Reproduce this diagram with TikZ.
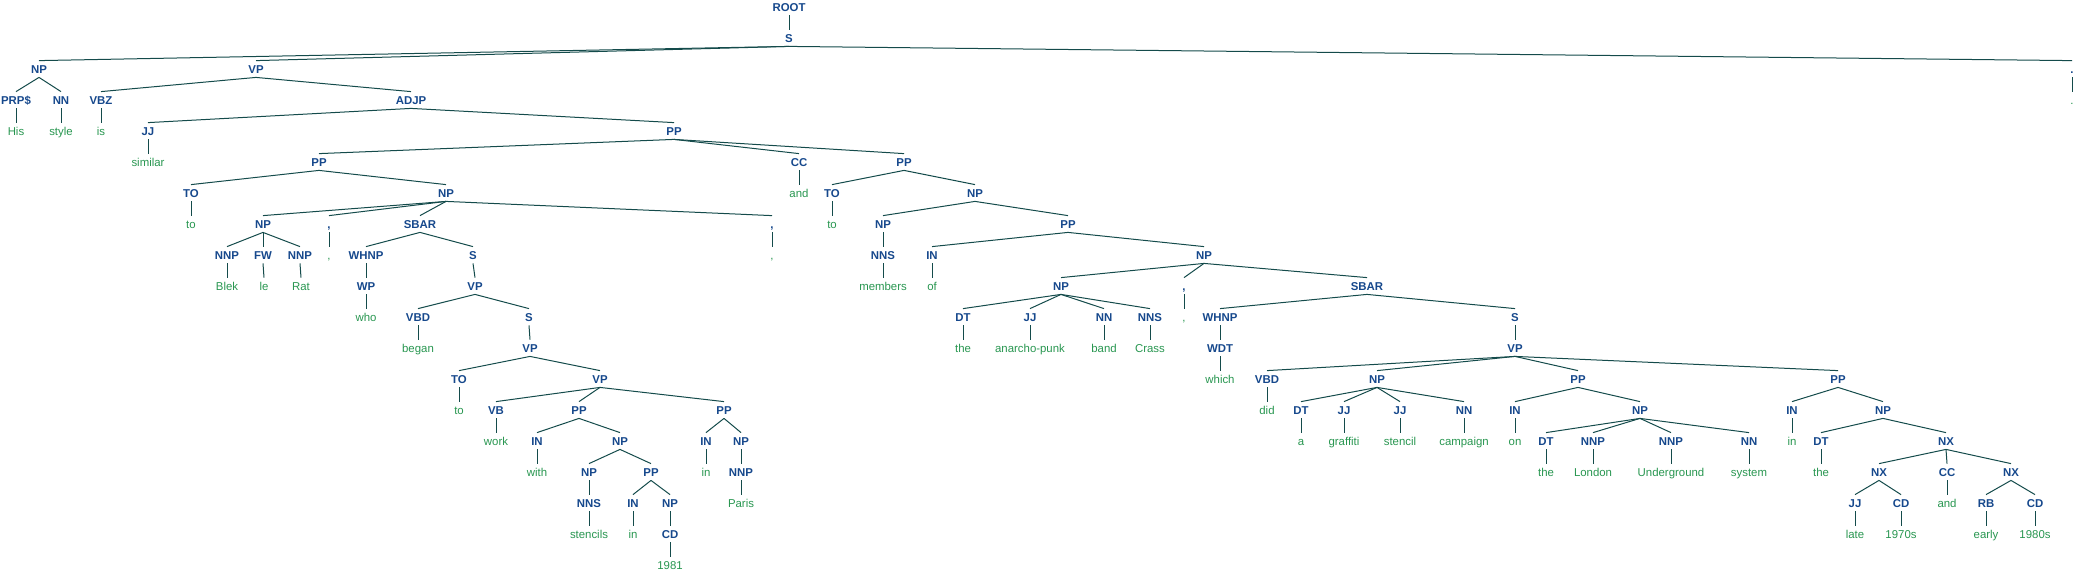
\documentclass[tikz,border=0pt]{standalone}
\usepackage{fontspec}
\setmainfont{Liberation Sans}
\usepackage{tikz}
\usepackage{xcolor}
\definecolor{labblue}{RGB}{22,72,140}
\definecolor{leafgreen}{RGB}{40,150,80}
\definecolor{edgeteal}{RGB}{20,75,75}

\begin{document}
\begin{tikzpicture}[
      x=0.5pt, y=-15.5pt,
      tag/.style={text=labblue, font=\fontsize{5.7}{6.8}\selectfont\bfseries,
                  inner sep=0pt, minimum height=8pt, text height=4.1pt, text depth=0pt},
      word/.style={text=leafgreen, font=\fontsize{5.7}{6.8}\selectfont,
                   inner sep=0pt, minimum height=8pt, text height=4.1pt, text depth=0pt},
      edge/.style={draw=edgeteal, line width=0.5pt},
    ]
    \useasboundingbox (0,-0.2258) rectangle (2077,18.3226);

    % top of the tree
    \node[tag] (root) at (789,0) {ROOT};
    \node[tag] (s) at (789,1) {S};
    \node[tag] (np1) at (39,2) {NP};
    \node[tag] (vp1) at (256,2) {VP};
    \node[tag] (pdot) at (2072,2) {.};
    \node[word] (wdot) at (2072,3) {.};

    % His style is similar
    \node[tag] (prp) at (16,3) {PRP\$};
    \node[tag] (nn1) at (61,3) {NN};
    \node[tag] (vbz) at (101,3) {VBZ};
    \node[tag] (adjp) at (411,3) {ADJP};
    \node[word] (his) at (16,4) {His};
    \node[word] (style) at (61,4) {style};
    \node[word] (is) at (101,4) {is};
    \node[tag] (jj1) at (148,4) {JJ};
    \node[tag] (pp1) at (674,4) {PP};
    \node[word] (similar) at (148,5) {similar};
    \node[tag] (pp2) at (319,5) {PP};
    \node[tag] (cc1) at (799,5) {CC};
    \node[tag] (pp3) at (904,5) {PP};

    % to Blek le Rat, who began ...
    \node[tag] (to1) at (191,6) {TO};
    \node[tag] (np2) at (446,6) {NP};
    \node[word] (and1) at (799,6) {and};
    \node[word] (wto1) at (191,7) {to};
    \node[tag] (np4) at (263,7) {NP};
    \node[tag] (comma1) at (329,7) {,};
    \node[tag] (sbar1) at (420,7) {SBAR};
    \node[tag] (comma2) at (772,7) {,};
    \node[tag] (nnp1) at (227,8) {NNP};
    \node[tag] (fw) at (263,8) {FW};
    \node[tag] (nnp2) at (300,8) {NNP};
    \node[word] (wcomma1) at (329,8) {,};
    \node[tag] (whnp1) at (366,8) {WHNP};
    \node[tag] (s2) at (473,8) {S};
    \node[word] (wcomma2) at (772,8) {,};
    \node[word] (blek) at (227,9) {Blek};
    \node[word] (le) at (264,9) {le};
    \node[word] (rat) at (301,9) {Rat};
    \node[tag] (wp) at (366,9) {WP};
    \node[tag] (vp2) at (475,9) {VP};
    \node[word] (who) at (366,10) {who};
    \node[tag] (vbd1) at (418,10) {VBD};
    \node[tag] (s3) at (529,10) {S};
    \node[word] (began) at (418,11) {began};
    \node[tag] (vp3) at (530,11) {VP};
    \node[tag] (to3) at (459,12) {TO};
    \node[tag] (vp5) at (600,12) {VP};
    \node[word] (wto3) at (459,13) {to};
    \node[tag] (vb) at (496,13) {VB};
    \node[tag] (pp7) at (579,13) {PP};
    \node[tag] (pp8) at (724,13) {PP};
    \node[word] (work) at (496,14) {work};
    \node[tag] (in4) at (537,14) {IN};
    \node[tag] (np11) at (620,14) {NP};
    \node[tag] (in5) at (706,14) {IN};
    \node[tag] (np12) at (741,14) {NP};
    \node[word] (with) at (537,15) {with};
    \node[tag] (np13) at (589,15) {NP};
    \node[tag] (pp9) at (651,15) {PP};
    \node[word] (win5) at (706,15) {in};
    \node[tag] (nnp5) at (741,15) {NNP};
    \node[tag] (nns3) at (589,16) {NNS};
    \node[tag] (in6) at (633,16) {IN};
    \node[tag] (np14) at (670,16) {NP};
    \node[word] (paris) at (741,16) {Paris};
    \node[word] (stencils) at (589,17) {stencils};
    \node[word] (win6) at (633,17) {in};
    \node[tag] (cd3) at (670,17) {CD};
    \node[word] (y1981) at (670,18) {1981};

    % to members of the anarcho-punk band Crass, which ...
    \node[tag] (to2) at (832,6) {TO};
    \node[tag] (np3) at (975,6) {NP};
    \node[word] (wto2) at (832,7) {to};
    \node[tag] (np5) at (883,7) {NP};
    \node[tag] (pp4) at (1068,7) {PP};
    \node[tag] (nns1) at (883,8) {NNS};
    \node[tag] (in1) at (932,8) {IN};
    \node[tag] (np6) at (1204,8) {NP};
    \node[word] (members) at (883,9) {members};
    \node[word] (of) at (932,9) {of};
    \node[tag] (np7) at (1061,9) {NP};
    \node[tag] (comma3) at (1184,9) {,};
    \node[tag] (sbar2) at (1367,9) {SBAR};
    \node[tag] (dt1) at (963,10) {DT};
    \node[tag] (jj2) at (1030,10) {JJ};
    \node[tag] (nn2) at (1104,10) {NN};
    \node[tag] (nns2) at (1150,10) {NNS};
    \node[word] (wcomma3) at (1184,10) {,};
    \node[tag] (whnp2) at (1220,10) {WHNP};
    \node[tag] (s4) at (1515,10) {S};
    \node[word] (the1) at (963,11) {the};
    \node[word] (anarcho) at (1030,11) {anarcho-punk};
    \node[word] (band) at (1104,11) {band};
    \node[word] (crass) at (1150,11) {Crass};
    \node[tag] (wdt) at (1220,11) {WDT};
    \node[tag] (vp4) at (1515,11) {VP};
    \node[word] (which) at (1220,12) {which};
    \node[tag] (vbd2) at (1267,12) {VBD};
    \node[tag] (np8) at (1377,12) {NP};
    \node[tag] (pp5) at (1578,12) {PP};
    \node[tag] (pp6) at (1838,12) {PP};
    \node[word] (did) at (1267,13) {did};
    \node[tag] (dt2) at (1301,13) {DT};
    \node[tag] (jj3) at (1344,13) {JJ};
    \node[tag] (jj4) at (1400,13) {JJ};
    \node[tag] (nn3) at (1464,13) {NN};
    \node[tag] (in2) at (1515,13) {IN};
    \node[tag] (np9) at (1640,13) {NP};
    \node[tag] (in3) at (1792,13) {IN};
    \node[tag] (np10) at (1883,13) {NP};
    \node[word] (a) at (1301,14) {a};
    \node[word] (graffiti) at (1344,14) {graffiti};
    \node[word] (stencil) at (1400,14) {stencil};
    \node[word] (campaign) at (1464,14) {campaign};
    \node[word] (on) at (1515,14) {on};
    \node[tag] (dt3) at (1546,14) {DT};
    \node[tag] (nnp3) at (1593,14) {NNP};
    \node[tag] (nnp4) at (1671,14) {NNP};
    \node[tag] (nn4) at (1749,14) {NN};
    \node[word] (win3) at (1792,14) {in};
    \node[tag] (dt4) at (1821,14) {DT};
    \node[tag] (nx1) at (1946,14) {NX};
    \node[word] (the2) at (1546,15) {the};
    \node[word] (london) at (1593,15) {London};
    \node[word] (underground) at (1671,15) {Underground};
    \node[word] (system) at (1749,15) {system};
    \node[word] (the3) at (1821,15) {the};
    \node[tag] (nx2) at (1879,15) {NX};
    \node[tag] (cc2) at (1947,15) {CC};
    \node[tag] (nx3) at (2011,15) {NX};
    \node[tag] (jj5) at (1855,16) {JJ};
    \node[tag] (cd1) at (1901,16) {CD};
    \node[word] (and2) at (1947,16) {and};
    \node[tag] (rb) at (1986,16) {RB};
    \node[tag] (cd2) at (2035,16) {CD};
    \node[word] (late) at (1855,17) {late};
    \node[word] (y1970s) at (1901,17) {1970s};
    \node[word] (early) at (1986,17) {early};
    \node[word] (y1980s) at (2035,17) {1980s};

    % branches
    \foreach \p/\c in {root/s, s/np1, s/vp1, s/pdot, pdot/wdot,
        np1/prp, np1/nn1, prp/his, nn1/style, vp1/vbz, vp1/adjp, vbz/is,
        adjp/jj1, adjp/pp1, jj1/similar, pp1/pp2, pp1/cc1, pp1/pp3, cc1/and1}
      \draw[edge] (\p.south) -- (\c.north);
    \foreach \p/\c in {pp2/to1, pp2/np2, to1/wto1,
        np2/np4, np2/comma1, np2/sbar1, np2/comma2, comma1/wcomma1, comma2/wcomma2,
        np4/nnp1, np4/fw, np4/nnp2, nnp1/blek, fw/le, nnp2/rat,
        sbar1/whnp1, sbar1/s2, whnp1/wp, wp/who, s2/vp2, vp2/vbd1, vp2/s3,
        vbd1/began, s3/vp3, vp3/to3, vp3/vp5, to3/wto3,
        vp5/vb, vp5/pp7, vp5/pp8, vb/work, pp7/in4, pp7/np11, in4/with,
        np11/np13, np11/pp9, np13/nns3, nns3/stencils, pp9/in6, pp9/np14,
        in6/win6, np14/cd3, cd3/y1981, pp8/in5, pp8/np12, in5/win5,
        np12/nnp5, nnp5/paris}
      \draw[edge] (\p.south) -- (\c.north);
    \foreach \p/\c in {pp3/to2, pp3/np3, to2/wto2, np3/np5, np3/pp4,
        np5/nns1, nns1/members, pp4/in1, pp4/np6, in1/of,
        np6/np7, np6/comma3, np6/sbar2, comma3/wcomma3,
        np7/dt1, np7/jj2, np7/nn2, np7/nns2, dt1/the1, jj2/anarcho, nn2/band, nns2/crass,
        sbar2/whnp2, sbar2/s4, whnp2/wdt, wdt/which, s4/vp4,
        vp4/vbd2, vp4/np8, vp4/pp5, vp4/pp6, vbd2/did,
        np8/dt2, np8/jj3, np8/jj4, np8/nn3, dt2/a, jj3/graffiti, jj4/stencil, nn3/campaign,
        pp5/in2, pp5/np9, in2/on, np9/dt3, np9/nnp3, np9/nnp4, np9/nn4,
        dt3/the2, nnp3/london, nnp4/underground, nn4/system,
        pp6/in3, pp6/np10, in3/win3, np10/dt4, np10/nx1, dt4/the3,
        nx1/nx2, nx1/cc2, nx1/nx3, nx2/jj5, nx2/cd1, jj5/late, cd1/y1970s,
        cc2/and2, nx3/rb, nx3/cd2, rb/early, cd2/y1980s}
      \draw[edge] (\p.south) -- (\c.north);
  \end{tikzpicture}
\end{document}
